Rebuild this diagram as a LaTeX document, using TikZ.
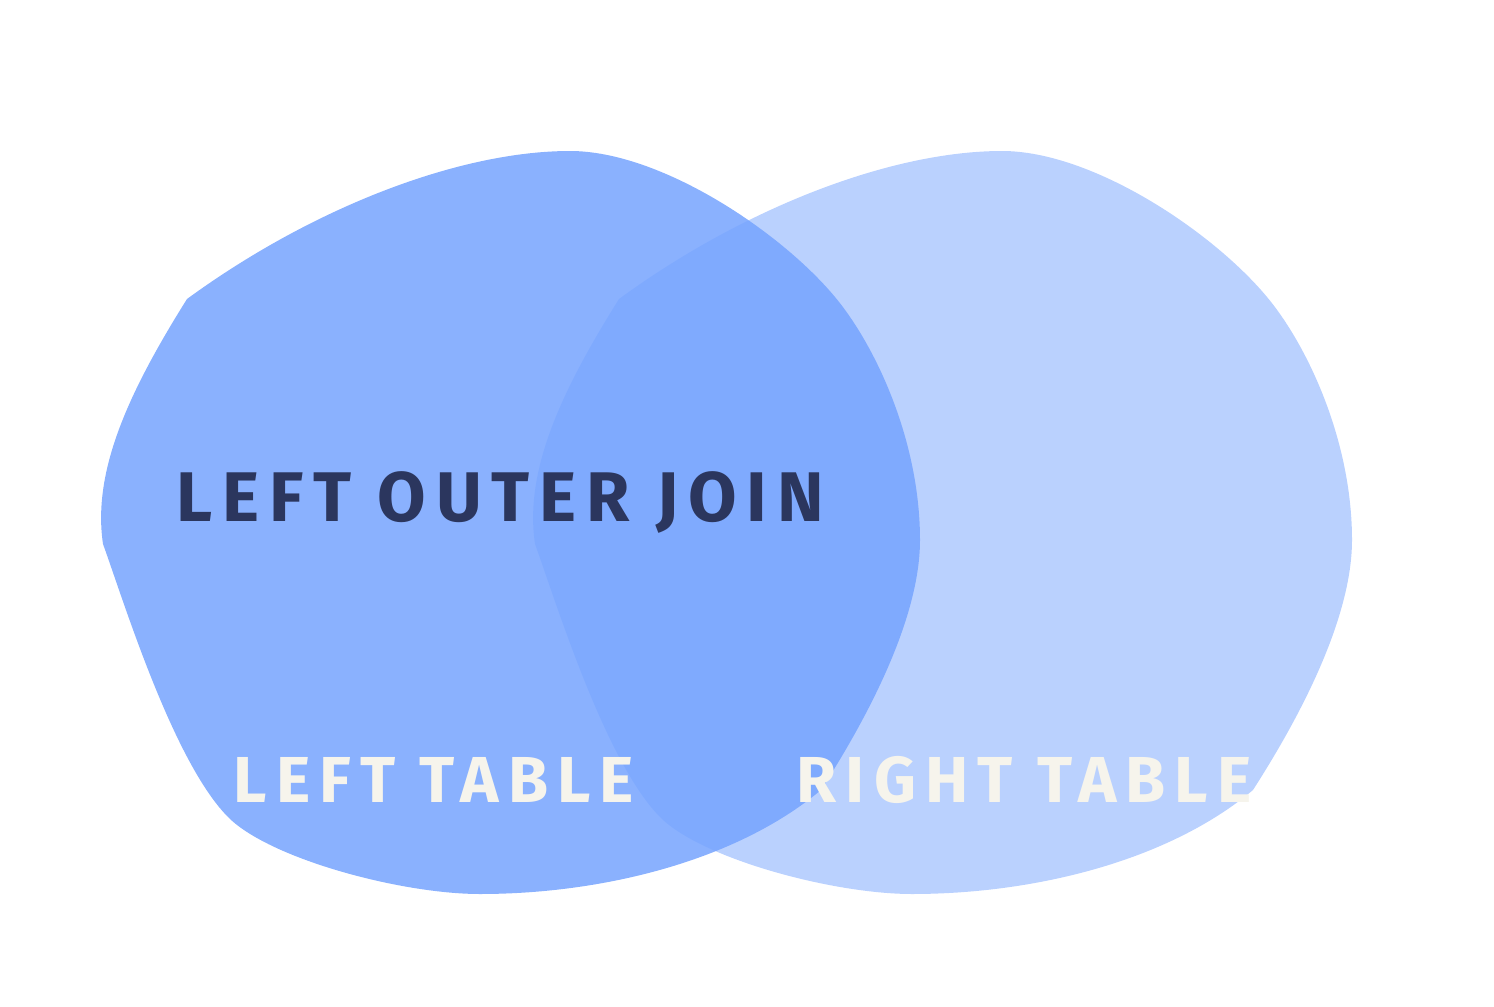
\documentclass[tikz,border=0pt]{standalone}
\usepackage{fontspec}
\newfontfamily\sketchfont[LetterSpace=14]{Fira Sans}
\definecolor{setblue}{RGB}{117,163,254}
\definecolor{inkblue}{RGB}{43,54,94}
\definecolor{chalk}{RGB}{246,244,236}
\tikzset{
  leftset/.style  = {fill=setblue, fill opacity=0.85, draw=none},
  rightset/.style = {fill=setblue, fill opacity=0.5, draw=none},
  title/.style    = {font=\sketchfont\fontsize{40}{40}\selectfont\bfseries, text=inkblue, inner sep=0pt},
  tag/.style      = {font=\sketchfont\fontsize{37}{37}\selectfont\bfseries, text=chalk, inner sep=0pt},
}
% one blob outline, in pixel units of the picture
\newcommand\blobshape{(187,299) .. controls (313,207) and (460,151) .. (570,151)
  .. controls (660,151) and (780,231) .. (835,297)
  .. controls (875,345) and (920,440) .. (920,540)
  .. controls (920,630) and (851,743) .. (821,790)
  .. controls (735,862) and (600,894) .. (480,894)
  .. controls (400,894) and (267,858) .. (227,816)
  .. controls (172,759) and (123,599) .. (103,544)
  .. controls (92,470) and (130,390) .. (187,299) -- cycle}

\begin{document}
\begin{tikzpicture}[x=0.02cm, y=-0.02cm]
\useasboundingbox (0,0) rectangle (1494,1007);

%% -- the two sets -------------------------------------------------------
\fill[leftset] \blobshape;
\begin{scope}[shift={(432,0)}]
  \fill[rightset] \blobshape;
\end{scope}

%% -- labels -------------------------------------------------------------
\node[title] (join)  at (500,502) {LEFT OUTER JOIN};
\node[tag]   (ltab)  at (434,780) {LEFT TABLE};
\node[tag]   (rtab)  at (1024,780) {RIGHT TABLE};

\end{tikzpicture}
\end{document}
